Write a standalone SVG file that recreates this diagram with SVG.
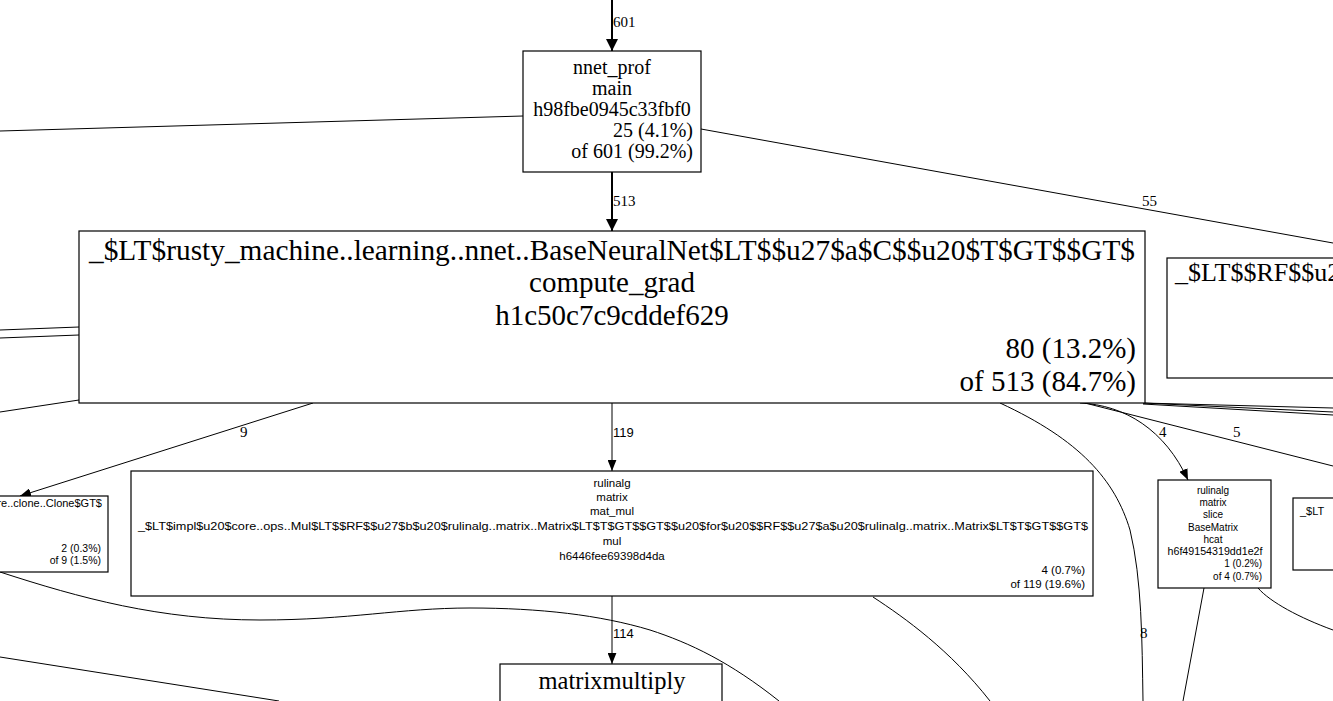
<svg xmlns="http://www.w3.org/2000/svg" width="1333" height="701" viewBox="0 0 1333 701">
<style>
.box{fill:#fff;stroke:#000;stroke-width:1.2}
.e{fill:none;stroke:#000;stroke-width:1}
.thick{stroke-width:2}
.serif{font-family:"Liberation Serif","Times New Roman",serif;fill:#000}
.sans{font-family:"Liberation Sans",Arial,sans-serif;fill:#000}
.lbl{font-family:"Liberation Serif","Times New Roman",serif;font-size:15px;fill:#000}
.lbls{font-family:"Liberation Sans",Arial,sans-serif;font-size:13px;fill:#000}
.c{text-anchor:middle}
.r{text-anchor:end}
</style>
<defs>
<marker id="ab" viewBox="0 0 12 12" refX="12" refY="6" markerWidth="12" markerHeight="12" markerUnits="userSpaceOnUse" orient="auto">
<path d="M0,0 L12,6 L0,12 z" fill="#000"/>
</marker>
<marker id="as" viewBox="0 0 10 8" refX="10" refY="4" markerWidth="11" markerHeight="9" markerUnits="userSpaceOnUse" orient="auto">
<path d="M0,0 L10,4 L0,8 z" fill="#000"/>
</marker>
</defs>
<rect width="1333" height="701" fill="#fff"/>

<g id="edges">
<path class="e thick" d="M612,0 L612,51" marker-end="url(#ab)"/>
<text class="lbl" x="613" y="27">601</text>
<path class="e thick" d="M612,172 L612,231" marker-end="url(#ab)"/>
<text class="lbl" x="613" y="206">513</text>
<path class="e" d="M0,131 L523,116"/>
<path class="e" d="M701,129 L1333,243"/>
<text class="lbl" x="1142" y="206">55</text>
<path class="e" d="M0,330 L79,327"/>
<path class="e" d="M0,338 L79,335"/>
<path class="e" d="M0,412 L79,400"/>
<path class="e" d="M313,403 L20,496" marker-end="url(#as)"/>
<text class="lbl" x="240" y="437">9</text>
<path class="e" d="M612,403 L612,471" marker-end="url(#as)"/>
<text class="lbls" x="613" y="437">119</text>
<path class="e" d="M612,596 L612,664" marker-end="url(#as)"/>
<text class="lbls" x="613" y="638">114</text>
<path class="e" d="M0,572 C80,598 160,620 260,620 C350,620 400,608 470,608 C540,608 600,615 650,630 C690,643 730,662 779,701"/>
<path class="e" d="M0,657 L279,701"/>
<path class="e" d="M873,597 C905,618 950,650 990,701"/>
<path class="e" d="M1000,403 C1080,440 1115,480 1130,530 C1142,580 1142,640 1143,701"/>
<text class="lbl" x="1140" y="638">8</text>
<path class="e" d="M1080,403 C1125,405 1165,430 1188,480" marker-end="url(#as)"/>
<text class="lbl" x="1159" y="437">4</text>
<path class="e" d="M1085,403 L1333,466"/>
<text class="lbl" x="1233" y="437">5</text>
<path class="e" d="M1143,403 L1333,408"/>
<path class="e" d="M1143,403 L1333,412"/>
<path class="e" d="M1143,404 L1333,415"/>
<path class="e" d="M1204,588 L1183,701"/>
<path class="e" d="M1258,588 C1270,602 1300,618 1333,630"/>
</g>

<g id="node-main">
<rect class="box" x="523" y="51" width="178" height="121"/>
<text class="serif c" font-size="20" x="612" y="74">nnet_prof</text>
<text class="serif c" font-size="20" x="612" y="95">main</text>
<text class="serif c" font-size="20" x="612" y="116">h98fbe0945c33fbf0</text>
<text class="serif r" font-size="20" x="693" y="137">25 (4.1%)</text>
<text class="serif r" font-size="20" x="693" y="158">of 601 (99.2%)</text>
</g>

<g id="node-compute-grad">
<rect class="box" x="79" y="231" width="1066" height="172"/>
<text class="serif c" font-size="29" x="612" y="260" textLength="1046" lengthAdjust="spacingAndGlyphs">_$LT$rusty_machine..learning..nnet..BaseNeuralNet$LT$$u27$a$C$$u20$T$GT$$GT$</text>
<text class="serif c" font-size="29" x="612" y="292">compute_grad</text>
<text class="serif c" font-size="29" x="612" y="325">h1c50c7c9cddef629</text>
<text class="serif r" font-size="29" x="1136" y="358">80 (13.2%)</text>
<text class="serif r" font-size="29" x="1136" y="391">of 513 (84.7%)</text>
</g>

<g id="node-rf">
<rect class="box" x="1167" y="258" width="180" height="120"/>
<text class="serif" font-size="26" x="1175" y="281">_$LT$$RF$$u2</text>
</g>

<g id="node-clone">
<rect class="box" x="-20" y="496" width="128" height="76"/>
<text class="sans r" font-size="11" x="102" y="507">re..clone..Clone$GT$</text>
<text class="sans r" font-size="10.5" x="101" y="552">2 (0.3%)</text>
<text class="sans r" font-size="10.5" x="101" y="564">of 9 (1.5%)</text>
</g>

<g id="node-mat-mul">
<rect class="box" x="131" y="471" width="962" height="125"/>
<text class="sans c" font-size="11.5" x="612" y="487">rulinalg</text>
<text class="sans c" font-size="11.5" x="612" y="501">matrix</text>
<text class="sans c" font-size="11.5" x="612" y="515">mat_mul</text>
<text class="sans c" font-size="11.5" x="613" y="530" textLength="950" lengthAdjust="spacingAndGlyphs">_$LT$impl$u20$core..ops..Mul$LT$$RF$$u27$b$u20$rulinalg..matrix..Matrix$LT$T$GT$$GT$$u20$for$u20$$RF$$u27$a$u20$rulinalg..matrix..Matrix$LT$T$GT$$GT$</text>
<text class="sans c" font-size="11.5" x="612" y="545">mul</text>
<text class="sans c" font-size="11.5" x="612" y="560">h6446fee69398d4da</text>
<text class="sans r" font-size="11.5" x="1085" y="574">4 (0.7%)</text>
<text class="sans r" font-size="11.5" x="1085" y="588">of 119 (19.6%)</text>
</g>

<g id="node-hcat">
<rect class="box" x="1158" y="480" width="113" height="108"/>
<text class="sans c" font-size="10" x="1213" y="494">rulinalg</text>
<text class="sans c" font-size="10" x="1213" y="506">matrix</text>
<text class="sans c" font-size="10" x="1213" y="518">slice</text>
<text class="sans c" font-size="10" x="1213" y="531">BaseMatrix</text>
<text class="sans c" font-size="10" x="1213" y="543">hcat</text>
<text class="sans c" font-size="10" x="1215" y="555" textLength="95" lengthAdjust="spacingAndGlyphs">h6f49154319dd1e2f</text>
<text class="sans r" font-size="10" x="1262" y="567">1 (0.2%)</text>
<text class="sans r" font-size="10" x="1262" y="580">of 4 (0.7%)</text>
</g>

<g id="node-lt">
<rect class="box" x="1293" y="498" width="60" height="72"/>
<text class="sans" font-size="11" x="1300" y="515">_$LT</text>
</g>

<g id="node-matrixmultiply">
<rect class="box" x="500" y="664" width="222" height="60"/>
<text class="serif c" font-size="24.5" x="612" y="689">matrixmultiply</text>
</g>
</svg>
